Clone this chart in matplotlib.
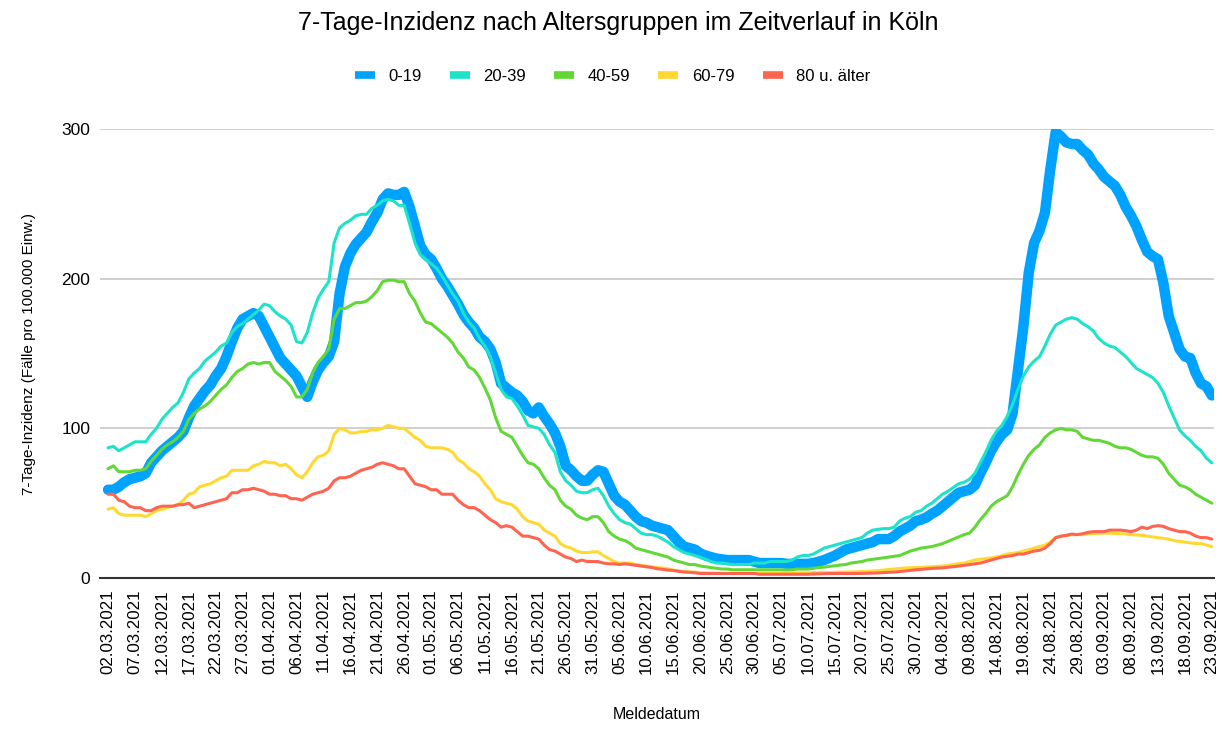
import numpy as np
import pandas as pd
import matplotlib
matplotlib.use('Agg')
import matplotlib.pyplot as plt
import matplotlib.dates as mdates
from matplotlib.lines import Line2D

plt.rcParams['font.family'] = ['Liberation Sans', 'DejaVu Sans']

# 7-Tage-Inzidenz, taeglich vom 02.03.2021 bis 23.09.2021
dates = pd.date_range('2021-03-02', '2021-09-23', freq='D')

age_0_19 = [
    59, 59, 61, 64, 66, 67, 68, 70, 77, 81,
    85, 88, 91, 94, 98, 107, 115, 120, 125, 129,
    135, 140, 148, 158, 167, 173, 175, 177, 175, 168,
    161, 154, 147, 143, 139, 135, 128, 121, 131, 139,
    144, 148, 158, 190, 208, 217, 223, 227, 231, 238,
    244, 253, 257, 256, 256, 258, 248, 235, 222, 216,
    213, 207, 200, 195, 189, 183, 176, 171, 167, 161,
    158, 153, 144, 130, 127, 124, 122, 118, 112, 110,
    114, 108, 103, 97, 88, 75, 72, 68, 65, 65,
    69, 72, 71, 63, 55, 51, 49, 45, 41, 38,
    37, 35, 34, 33, 32, 28, 24, 21, 20, 19,
    16.5, 15, 14, 13, 12.5, 12, 12, 12, 12, 12,
    11, 10, 10, 10, 10, 10, 9.5, 9.5, 9.5, 9.5,
    9.5, 10, 11, 12, 13.5, 15, 17, 19, 20, 21,
    22, 23, 24, 26, 26, 26, 28, 31, 33, 35,
    38, 39, 40.5, 43, 45, 48, 51, 54, 57, 58,
    59, 62, 70, 77, 85, 91, 96, 99, 110, 139,
    168, 204, 224, 232, 244, 273, 298, 295, 291, 290,
    290, 286, 283, 277, 273, 268, 265, 262, 256, 248,
    242, 235, 226, 218, 215, 213, 197, 175, 164, 153,
    148, 147, 137, 130, 128, 122,
]

age_20_39 = [
    87, 88, 85, 87, 89, 91, 91, 91, 96, 100,
    106, 110, 114, 117, 124, 133, 137, 140, 145, 148,
    151, 155, 157, 164, 168, 170, 173, 176, 179, 183,
    182, 178, 175, 173, 169, 158, 157, 164, 177, 187,
    193, 198, 224, 234, 237, 239, 242, 243, 243, 247,
    249, 252, 253, 252, 249, 249, 237, 224, 216, 213,
    210, 207, 202, 196, 190, 185, 177, 171, 167, 160,
    155, 148, 137, 126, 121, 120, 115, 109, 102, 101,
    100, 96, 89, 84, 71, 65, 62, 58, 57, 57,
    59, 60, 55, 48, 43, 39, 37, 36, 33, 30,
    29, 29, 28, 26, 24, 21, 19, 17, 16, 15,
    14, 12.5, 11, 10, 10, 9.5, 9, 9, 9, 9,
    10, 10, 10, 11, 11, 11, 11, 12, 14, 15,
    15, 16, 18, 20, 21, 22, 23, 24, 25, 26,
    27, 30, 32, 32.5, 33, 33, 34, 38, 40, 41,
    44, 45, 48, 50, 53, 56, 58, 60.5, 63, 64,
    66, 70, 77, 84, 92, 98, 102, 108, 116, 126,
    135, 141, 145, 148, 155, 163, 169, 171, 173, 174,
    173, 170, 168, 165, 160, 157, 155, 154, 151, 148,
    144, 140, 138, 136, 134, 130, 124, 115, 107, 99,
    95, 92, 88, 85, 80, 77,
]

age_40_59 = [
    73, 75, 71, 71, 71, 72, 72, 73, 78, 82,
    86, 89, 91, 94, 98, 106, 110, 113, 115, 118,
    122, 126, 129, 134, 138, 140, 143, 144, 143, 144,
    144, 138, 135, 132, 128, 121, 121, 126, 137, 144,
    148, 153, 173, 180, 180, 182, 184, 184, 185, 188,
    192, 198, 199, 199, 198, 198, 190, 185, 177, 171,
    170, 167, 164, 161, 157, 151, 147, 141, 139, 134,
    127, 119, 107, 98, 96, 94, 88, 82, 77, 76,
    73, 67, 62, 59, 52, 48, 46, 42, 40, 39,
    41, 41, 37, 31, 28, 26, 25, 23, 20, 19,
    18, 17, 16, 15, 14, 12, 11, 10, 9, 9,
    8, 7.5, 7, 6.5, 6, 6, 5.5, 5.5, 5.5, 5.5,
    5.5, 5.5, 5.5, 5.5, 5.5, 5.5, 5.3, 5.5, 6, 6,
    6, 6.5, 7, 7.3, 7.8, 8.2, 8.7, 9, 10, 10.5,
    11, 12, 12.5, 13, 13.5, 14, 14.5, 15, 16.5, 18,
    19, 20, 20.5, 21, 22, 23, 24.5, 26, 27.5, 29,
    30, 34, 39, 43, 48, 51, 53, 55, 61, 69,
    76, 82, 86, 89, 94, 97, 99, 100, 99, 99,
    98, 94, 93, 92, 92, 91, 90, 88, 87, 87,
    86, 84, 82, 81, 81, 80, 76, 70, 66, 62,
    61, 59, 56, 54, 52, 50,
]

age_60_79 = [
    46, 47, 43, 42, 42, 42, 42, 41, 43, 45,
    46, 47, 48, 49, 52, 56, 57, 61, 62, 63,
    65, 67, 68, 72, 72, 72, 72, 75, 76, 78,
    77, 77, 75, 76, 73, 69, 67, 71, 77, 81,
    82, 85, 96, 100, 99, 97, 97, 98, 98, 99,
    99, 100, 102, 101, 100, 100, 97, 94, 92, 88,
    87, 87, 87, 86, 84, 79, 77, 73, 71, 68,
    63, 59, 53, 51, 50, 49, 46, 41, 38, 37,
    36, 32, 30, 28, 23, 21, 20, 18, 17, 17,
    17.5, 17.5, 15, 13, 11, 10, 10, 10, 9, 8.5,
    8, 7.5, 7, 6.7, 6.2, 5.3, 4.7, 4.2, 4, 4,
    3.5, 3.5, 3.3, 3.3, 3.2, 3.2, 3.2, 3.2, 3.2, 3.2,
    3.2, 3.2, 3.2, 3.2, 3.2, 3.2, 3.3, 3.3, 3.4, 3.5,
    3.5, 3.6, 3.6, 3.7, 3.7, 3.8, 3.9, 4, 4.1, 4.2,
    4.3, 4.5, 4.7, 5, 5.3, 5.8, 6, 6.4, 6.7, 6.9,
    7, 7.2, 7.4, 7.6, 7.8, 8, 8.4, 9, 9.6, 10,
    11, 12, 12.5, 13, 13.5, 14, 15, 16, 16.5, 17,
    18, 19, 20, 21, 22, 24, 27, 28, 28.5, 29,
    29, 29, 29.5, 29.5, 30, 30, 30, 29.8, 29.6, 29.4,
    29, 28.8, 28.5, 28, 27.5, 27, 26.5, 26, 25, 24.5,
    24, 23.5, 23, 23, 22, 21,
]

age_80_plus = [
    56, 56, 52, 51, 48, 47, 47, 45, 45, 47,
    48, 48, 48, 49, 49, 50, 47, 48, 49, 50,
    51, 52, 53, 57, 57, 59, 59, 60, 59, 58,
    56, 56, 55, 55, 53, 53, 52, 54, 56, 57,
    58, 60, 65, 67, 67, 68, 70, 72, 73, 74,
    76, 77, 76, 75, 73, 73, 68, 63, 62, 61,
    59, 59, 56, 56, 56, 52, 49, 47, 47, 45,
    42, 39, 37, 34, 35, 34, 31, 28, 28, 27,
    26, 22, 19, 18, 16, 14, 13, 11, 12, 11,
    11, 11, 10, 9.5, 9.5, 9, 9.5, 9, 8.5, 8,
    7.5, 7, 6.2, 5.8, 5.3, 5, 4.5, 4, 3.8, 3.5,
    3, 3, 3, 3, 3, 3, 3, 3, 3, 3,
    3, 2.5, 2.5, 2.5, 2.5, 2.5, 2.5, 2.5, 2.5, 2.5,
    2.5, 2.7, 2.8, 2.9, 3, 3, 3, 3, 3, 3,
    3.1, 3.2, 3.3, 3.4, 3.6, 3.8, 4, 4.3, 4.7, 5.1,
    5.5, 5.8, 6.1, 6.4, 6.6, 6.8, 7.2, 7.6, 8, 8.5,
    9, 9.5, 10, 11, 12, 13, 14, 14.5, 15, 16,
    16, 17, 18, 18.5, 20, 23, 27, 28, 28.5, 29.4,
    29, 29.6, 30.5, 31, 31, 31, 32, 32, 32, 31.6,
    31, 32, 34, 33, 34.5, 35, 34.5, 33, 32, 31,
    31, 30, 28, 27, 27, 26,
]

labels = ['0-19', '20-39', '40-59', '60-79', '80 u. älter']
series = [age_0_19, age_20_39, age_40_59, age_60_79, age_80_plus]
colors = ['#00A2FF', '#1CE4CB', '#61D836', '#FFD932', '#FF6450']
widths = [7.5, 2.2, 2.2, 2.2, 2.2]

fig = plt.figure(figsize=(12.25, 7.29), dpi=100)
ax = fig.add_axes([0.0816, 0.2071, 0.9094, 0.6159])

for vals, c, lw in zip(series, colors, widths):
    ax.plot(dates, vals, color=c, lw=lw, solid_joinstyle='round',
            solid_capstyle='round')

ax.set_ylim(0, 300)
ax.set_yticks([0, 100, 200, 300])
ax.set_xlim(dates[0] - pd.Timedelta(days=1.5), dates[-1] + pd.Timedelta(days=0.4))
ax.set_xticks(dates[::5])
ax.xaxis.set_major_formatter(mdates.DateFormatter('%d.%m.%Y'))
ax.tick_params(axis='x', rotation=90, length=0, pad=8, labelsize=12.2)
ax.tick_params(axis='y', length=0, pad=7, labelsize=12.5)
for lab in ax.get_xticklabels():
    lab.set_verticalalignment('top')

ax.grid(axis='y', color='#cccccc', lw=1.3)
ax.set_axisbelow(True)
for s in ['top', 'right', 'left']:
    ax.spines[s].set_visible(False)
ax.spines['bottom'].set_color('#333333')
ax.spines['bottom'].set_linewidth(1.5)
ax.spines['bottom'].set_zorder(5)

ax.set_ylabel('7-Tage-Inzidenz (Fälle pro 100.000 Einw.)', fontsize=11, labelpad=18)
ax.set_xlabel('Meldedatum', fontsize=11.5, labelpad=24)

fig.suptitle('7-Tage-Inzidenz nach Altersgruppen im Zeitverlauf in Köln',
             fontsize=18, x=0.505, y=0.985, va='top')

handles = [Line2D([], [], color=c, lw=5.5, solid_capstyle='butt') for c in colors]
fig.legend(handles, labels, loc='center', bbox_to_anchor=(0.5, 0.895), ncol=5,
           frameon=False, fontsize=12, handlelength=1.2, handletextpad=0.8,
           columnspacing=1.7)

fig.savefig('out.png', dpi=100)
